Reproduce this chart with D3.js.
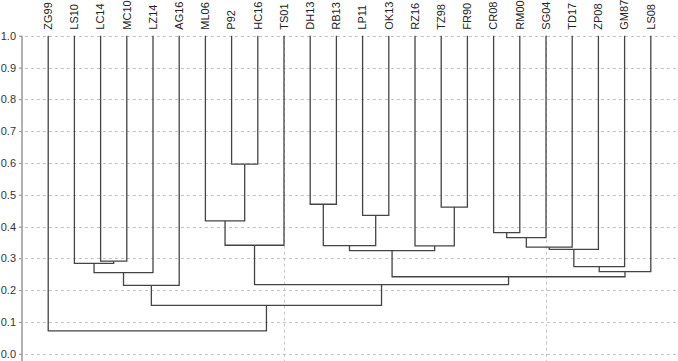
<!DOCTYPE html>
<html><head><meta charset="utf-8">
<script src="https://cdn.jsdelivr.net/npm/d3@7"></script>
<style>html,body{margin:0;padding:0;background:#fff;}svg{display:block;}</style>
</head><body>
<svg id="chart" width="678" height="361"></svg>
<script>
// Leaf order (left to right)
const leaves = ["ZG99","LS10","LC14","MC10","LZ14","AG16","ML06","P92","HC16","TS01",
  "DH13","RB13","LP11","OK13","RZ16","TZ98","FR90","CR08","RM00","SG04","TD17","ZP08","GM87","LS08"];
// Merges: [childA, childB, similarity]; merge i is referred to as "m"+i
const mergeA = ["LC14","LS10","m1","m2","P92","ML06","m5","DH13","LP11","m7","TZ98","RZ16","m9","CR08","m13","m14","m15","m16","m17","m12","m6","m3","ZG99"];
const mergeB = ["MC10","m0","LZ14","AG16","HC16","m4","TS01","RB13","OK13","m8","FR90","m10","m11","RM00","SG04","TD17","ZP08","GM87","LS08","m18","m19","m20","m21"];
const mergeH = [0.291,0.284,0.255,0.215,0.596,0.418,0.341,0.470,0.435,0.340,0.461,0.339,0.324,0.381,0.365,0.335,0.328,0.274,0.258,0.242,0.217,0.152,0.072];
const yTicks = [0.0,0.1,0.2,0.3,0.4,0.5,0.6,0.7,0.8,0.9,1.0];
const xGrid = [10,20];

const svg = d3.select("#chart");
const x = d3.scaleLinear().domain([0, leaves.length + 1]).range([22, 677]);
const y = d3.scaleLinear().domain([0, 1]).range([353.7, 35.7]);

// positions
const pos = {};
leaves.forEach((l, i) => pos[l] = {x: x(i + 1), h: 1.0});
mergeA.forEach((a, i) => {
  const b = mergeB[i];
  pos["m" + i] = {x: (pos[a].x + pos[b].x) / 2, h: mergeH[i]};
});

// grid
const grid = svg.append("g").attr("stroke", "#c4c4c4").attr("stroke-dasharray", "3,3").attr("stroke-width", 1);
yTicks.forEach(t => grid.append("line").attr("x1", 19).attr("x2", 678)
  .attr("y1", Math.round(y(t)) + 0.5).attr("y2", Math.round(y(t)) + 0.5));
xGrid.forEach(v => grid.append("line").attr("x1", Math.round(x(v)) + 0.5).attr("x2", Math.round(x(v)) + 0.5)
  .attr("y1", y(1)).attr("y2", 361));

// y axis
const yAxis = d3.axisLeft(y).tickValues(yTicks).tickFormat(d3.format(".1f")).tickSize(3).tickPadding(3);
const ag = svg.append("g").attr("transform", "translate(22,0)").call(yAxis);
ag.select(".domain").remove();
ag.selectAll(".tick line").attr("stroke", "#999");
ag.selectAll(".tick text").attr("font-family", "Liberation Sans, Arial, sans-serif").attr("font-size", 11).attr("fill", "#333");
svg.append("line").attr("x1", 22).attr("x2", 22).attr("y1", y(1)).attr("y2", 361)
  .attr("stroke", "#999").attr("stroke-width", 1.5);

// dendrogram links
const lg = svg.append("g").attr("fill", "none").attr("stroke", "#444").attr("stroke-width", 1.3);
mergeA.forEach((a, i) => {
  const b = mergeB[i], h = mergeH[i];
  const pa = pos[a], pb = pos[b];
  lg.append("path").attr("d",
    `M${pa.x},${y(pa.h)}V${y(h)}H${pb.x}V${y(pb.h)}`);
});

// leaf labels
svg.append("g").selectAll("text").data(leaves).join("text")
  .attr("transform", (d, i) => `translate(${x(i + 1)},${y(1) - 6}) rotate(-90)`)
  .attr("dy", "0.35em")
  .attr("text-anchor", "start")
  .attr("font-family", "Liberation Sans, Arial, sans-serif")
  .attr("font-size", 11).attr("fill", "#222")
  .text(d => d);
</script>
</body></html>
